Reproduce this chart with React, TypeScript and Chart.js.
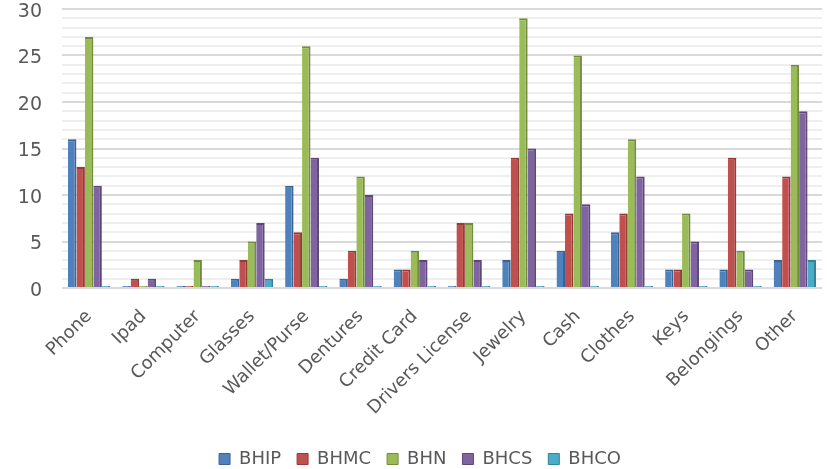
import { useEffect, useRef } from "react";
import { Chart } from "chart.js/auto";

const categories = [
  "Phone", "Ipad", "Computer", "Glasses", "Wallet/Purse", "Dentures", "Credit Card",
  "Drivers License", "Jewelry", "Cash", "Clothes", "Keys", "Belongings", "Other",
];
const bhip = [16, 0, 0, 1, 11, 1, 2, 0, 3, 4, 6, 2, 2, 3];
const bhmc = [13, 1, 0, 3, 6, 4, 2, 7, 14, 8, 8, 2, 14, 12];
const bhn = [27, 0, 3, 5, 26, 12, 4, 7, 29, 25, 16, 8, 4, 24];
const bhcs = [11, 1, 0, 7, 14, 10, 3, 3, 15, 9, 12, 5, 2, 19];
const bhco = [0, 0, 0, 1, 0, 0, 0, 0, 0, 0, 0, 0, 0, 3];

const FONT = "'DejaVu Sans', Verdana, sans-serif";
const TEXT = "#595959";

function series(label: string, data: number[], color: string, side: string) {
  return {
    label,
    data,
    backgroundColor: color,
    borderColor: side,
    borderWidth: { top: 2, right: 2, left: 0, bottom: 0 },
    borderSkipped: false as const,
    minBarLength: 2,
    barPercentage: 1.0,
    categoryPercentage: 0.78,
  };
}

export default function App() {
  const canvasRef = useRef<HTMLCanvasElement | null>(null);

  useEffect(() => {
    document.body.style.margin = "0";
    if (!canvasRef.current) return;
    const chart = new Chart(canvasRef.current, {
      type: "bar",
      data: {
        labels: categories,
        datasets: [
          series("BHIP", bhip, "#4f81bd", "#3a6497"),
          series("BHMC", bhmc, "#c0504d", "#933c3a"),
          series("BHN", bhn, "#9bbb59", "#718c3e"),
          series("BHCS", bhcs, "#8064a2", "#5e4879"),
          series("BHCO", bhco, "#4bacc6", "#33849a"),
        ],
      },
      options: {
        animation: false,
        responsive: true,
        maintainAspectRatio: false,
        layout: { padding: { left: 18, right: 5, top: 9, bottom: -9 } },
        plugins: {
          tooltip: { enabled: false },
          legend: {
            position: "bottom",
            labels: {
              color: TEXT,
              font: { family: FONT, size: 18 },
              boxWidth: 11,
              boxHeight: 11,
              padding: 16,
            },
          },
        },
        scales: {
          x: {
            grid: { display: false },
            border: { display: false },
            afterFit: (scale) => {
              scale.height = 146;
              scale.paddingLeft = 0;
              scale.paddingRight = 0;
            },
            ticks: {
              color: TEXT,
              font: { family: FONT, size: 18 },
              minRotation: 45,
              maxRotation: 45,
              padding: 10,
            },
          },
          y: {
            min: 0,
            max: 30,
            border: { display: false },
            afterFit: (scale) => {
              scale.width = 44;
              scale.paddingTop = 0;
              scale.paddingBottom = 0;
            },
            grid: {
              color: (ctx) => (ctx.tick && ctx.tick.value % 5 === 0 ? "#d9d9d9" : "#eeeeee"),
              lineWidth: 2,
              drawTicks: false,
            },
            ticks: {
              stepSize: 1,
              color: TEXT,
              font: { family: FONT, size: 19 },
              padding: 20,
              labelOffset: 3,
              autoSkip: false,
              callback: (v) => (Number(v) % 5 === 0 ? String(v) : ""),
            },
          },
        },
      },
    });
    return () => chart.destroy();
  }, []);

  return (
    <div style={{ position: "relative", width: 827, height: 469 }}>
      <canvas ref={canvasRef} />
    </div>
  );
}
